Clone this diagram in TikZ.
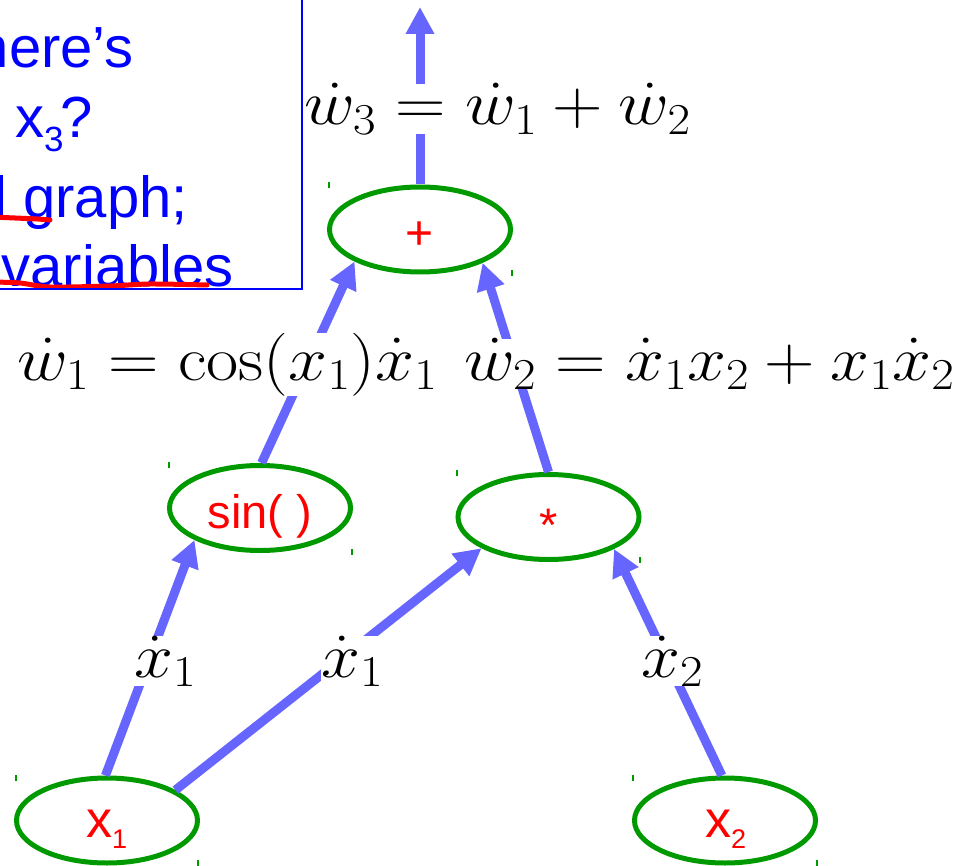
\RequirePackage{fix-cm}
\documentclass[tikz,border=0pt]{standalone}
\usepackage[no-math]{fontspec}
\newfontfamily\lib{Liberation Sans}
\usetikzlibrary{shapes.geometric,arrows.meta}
\definecolor{arrowblue}{RGB}{102,102,255}
\definecolor{nodegreen}{RGB}{0,153,0}
\definecolor{textblue}{RGB}{0,0,255}
\definecolor{textred}{RGB}{255,0,0}
\begin{document}
\begin{tikzpicture}[x=1pt,y=-1pt,
  opnode/.style={ellipse, draw=nodegreen, line width=5pt, minimum width=181pt, minimum height=85pt, inner sep=0pt},
  arr/.style={draw=arrowblue, line width=9pt, -{Triangle[length=27pt,width=27pt]}},
  optext/.style={text=textred, font=\lib\fontsize{47}{47}\selectfont, inner sep=0pt, anchor=base},
  vartext/.style={text=textred, font=\lib\fontsize{52}{52}\selectfont, inner sep=0pt, anchor=base west},
  deriv/.style={fill=white, inner sep=0pt, anchor=base west, xscale=1.11, font=\fontsize{63}{63}\selectfont},
  note/.style={text=textblue, font=\lib\fontsize{58}{58}\selectfont, inner sep=0pt, anchor=base east},
  handle/.style={draw=nodegreen, line width=1.2pt},
  scribble/.style={draw=textred, line width=5pt, line cap=round},
]
\useasboundingbox (0,0) rectangle (963,866);

% note box (cut off at the left)
\begin{scope}
\clip (0,0) rectangle (963,866);
\node[note] (n1) at (134,68) {Where’s};
\node[note] (n2) at (93,138) {the x\raisebox{-14pt}{\fontsize{35}{35}\selectfont 3}\kern-3pt?};
\node[note] (n3) at (188,218) {computational graph;};
\node[note] (n4) at (234,287) {variables};
\draw[scribble] (-8,217) -- (38,219) -- (50,220);
\draw[scribble] plot[smooth] coordinates {(-8,282) (20,283) (50,287) (110,286) (150,284) (207,285)};
\draw[textblue, line width=2pt] (302,-5) -- (302,289) -- (-5,289);
\end{scope}

% operation nodes
\node[opnode] (plus) at (420,229.5) {};
\node[opnode] (sin) at (260,508) {};
\node[opnode] (mul) at (548.5,517) {};
\node[opnode] (xa) at (107,820.5) {};
\node[opnode] (xb) at (725,820.5) {};

\node[optext, font=\lib\fontsize{48}{48}\selectfont] (plusT) at (420,250) {+};
\node[optext] (sinT) at (260,528) {sin( )};
\node[optext] (mulT) at (548.5,541) {*};
\node[vartext] (xaT) at (86,837) {x\raisebox{-11pt}{\fontsize{27}{27}\selectfont 1}};
\node[vartext] (xbT) at (705,837) {x\raisebox{-11pt}{\fontsize{27}{27}\selectfont 2}};

% selection handles
\foreach \hx/\hy [count=\i] in {329/185, 512/273, 169/465, 352/552, 457/473, 640/560, 16/778, 198/863, 633/778, 817/863}
  \draw[handle] (\hx,\hy-3) -- (\hx,\hy+3);

% connectors
\coordinate (out) at (420,7);
\draw[arr] (xa.92) -- (sin.206);
\draw[arr] (xa.24) -- (mul.205);
\draw[arr] (xb.94) -- (mul.334);
\draw[arr] (sin.88) -- (plus.206);
\draw[arr] (mul.90) -- (plus.332);
\draw[arr] (plus.90) -- (out);

% derivative labels
\node[deriv] (l3) at (304,125) {$\dot w_3 = \dot w_1 + \dot w_2$};
\node[deriv] (l1) at (17,380) {$\dot w_1 = \cos(x_1)\dot x_1$};
\node[deriv] (l2) at (464,380) {$\dot w_2 = \dot x_1 x_2 + x_1\dot x_2$};
\node[deriv] (la) at (134,677) {$\dot x_1$};
\node[deriv] (lb) at (321,677) {$\dot x_1$};
\node[deriv] (lc) at (641,677) {$\dot x_2$};
\end{tikzpicture}
\end{document}
